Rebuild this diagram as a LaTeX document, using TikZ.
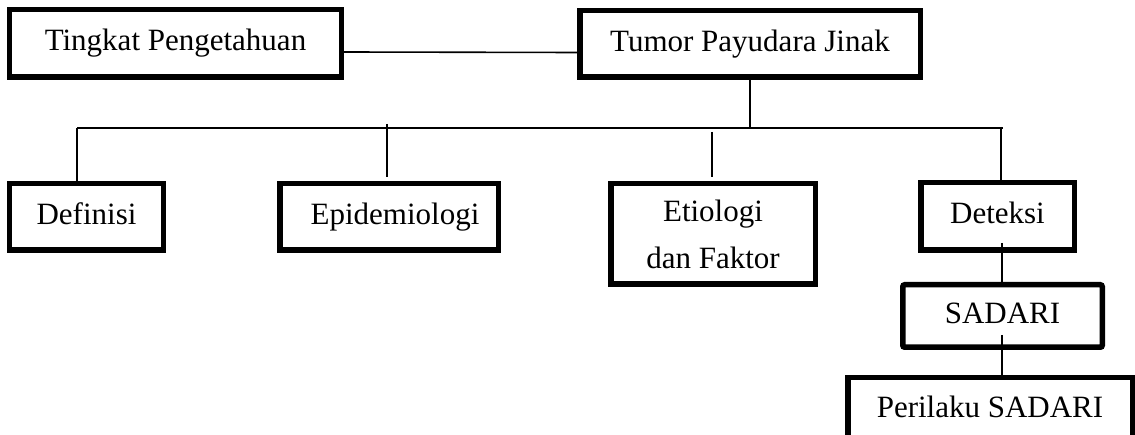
\documentclass[tikz,border=0pt]{standalone}
\usepackage{fontspec}
\setmainfont{Liberation Serif}
\begin{document}
\begin{tikzpicture}[x=1bp,y=-1bp,
  box/.style={draw,line width=5.5bp,inner sep=0pt,fill=white,
    text height=21bp,text depth=6bp,
    font=\fontsize{31bp}{47bp}\selectfont},
  link/.style={line width=1.6bp}]
\useasboundingbox[fill=white] (0,0) rectangle (1135,435);
\clip (0,0) rectangle (1135,435);
% boxes
\node[box,minimum width=331.5bp,minimum height=67.5bp] (ting) at (175.5,43.5) {Tingkat Pengetahuan};
\node[box,minimum width=340.5bp,minimum height=66.5bp] (tumor) at (750,44) {Tumor Payudara Jinak};
\node[box,minimum width=153.5bp,minimum height=66.5bp] (def) at (86.5,217) {Definisi};
\node[box,minimum width=218.5bp,minimum height=66.5bp] (epi) at (389,217) {\hspace*{12bp}Epidemiologi};
\node[box,minimum width=204.5bp,minimum height=100.5bp,align=center,text height={},text depth={}] (eti) at (713,234) {Etiologi\\dan Faktor};
\node[box,minimum width=153.5bp,minimum height=67.5bp] (det) at (997.5,216.5) {Deteksi};
\node[box,rounded corners=2bp,minimum width=199.5bp,minimum height=62.5bp] (sad) at (1002.5,316) {SADARI};
\node[box,minimum width=284.5bp,minimum height=64.5bp] (per) at (990,410) {Perilaku SADARI};
% bus coordinates
\coordinate (busL) at (77,128);
\coordinate (busR) at (1003,128);
\coordinate (epiT) at (387,124);
\coordinate (etiT) at (712,132);
\coordinate (detT) at (1001,127);
\coordinate (detIn) at (1002,243);
\coordinate (sadIn) at (1002,335);
% connectors
\draw[link] ([yshift=-8.5bp]ting.east) -- ([yshift=-8.5bp]tumor.west);
\draw[link] (tumor.south) -- (tumor.south |- busL);
\draw[link] (busL) -- (busR);
\draw[link] (busL) -- (def.north -| busL);
\draw[link] (epiT) -- ([yshift=4bp]epi.north -| epiT);
\draw[link] (etiT) -- ([yshift=4bp]eti.north -| etiT);
\draw[link] (detT) -- (det.north -| detT);
\draw[link] (detIn) -- (sad.north -| detIn);
\draw[link] (sadIn) -- (per.north -| sadIn);
\end{tikzpicture}
\end{document}
